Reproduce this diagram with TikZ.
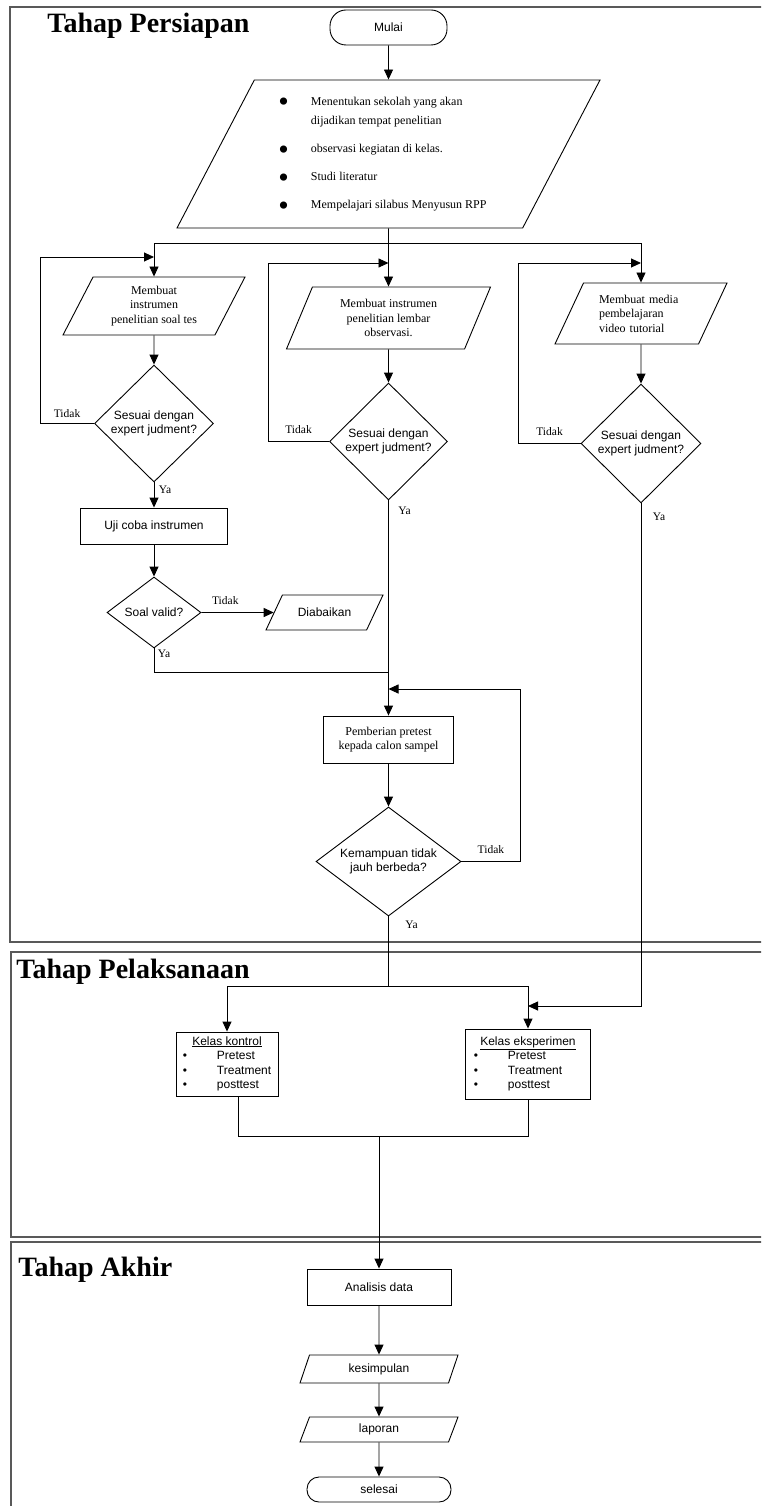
\documentclass[tikz,border=0pt]{standalone}
\usepackage{fontspec}
\setmainfont{Liberation Serif}
\setsansfont{Liberation Sans}
\usetikzlibrary{positioning,arrows.meta,shapes.geometric}
\newcommand{\bigdot}{\raisebox{-6.5pt}{\fontsize{30}{30}\selectfont\textbullet}}

\begin{document}
\begin{tikzpicture}[x=1pt, y=-1pt, line width=0.9pt,
    font=\fontsize{12}{14.5}\selectfont,
    sans/.style={font=\sffamily\fontsize{12}{14.5}\selectfont},
    term/.style={draw, sans, rounded corners=12pt, inner sep=0pt},
    proc/.style={draw, align=center, inner sep=3pt},
    io/.style={draw, trapezium, trapezium stretches body, align=center, inner sep=2pt},
    dec/.style={draw, diamond, sans, align=center, inner sep=0pt},
    lbl/.style={font=\fontsize{11.5}{12}\selectfont, inner sep=1.5pt},
    arr/.style={-{Triangle[length=10pt,width=9pt]}},
    frame/.style={draw=black!65, line width=1.6pt},
    stage/.style={font=\fontsize{28}{28}\selectfont\bfseries, anchor=base west, inner sep=0pt}
]
\useasboundingbox (0,0) rectangle (761,1506);
\clip (0,0) rectangle (761,1506);

% stage frames
\draw[frame] (10,7) rectangle (790,942);
\draw[frame] (11,952) rectangle (790,1237);
\draw[frame] (11,1242) rectangle (790,1530);
\node[stage] (tp) at (47,33) {Tahap Persiapan};
\node[stage] (tl) at (16,978) {Tahap Pelaksanaan};
\node[stage] (ta) at (18,1276) {Tahap Akhir};

% persiapan
\node[term, minimum width=117pt, minimum height=35pt, rounded corners=16pt] (start) at (388.5,27.5) {Mulai};
\node[io, trapezium left angle=58.5, trapezium right angle=121.5, minimum width=423pt,
      minimum height=148pt, font=\fontsize{12}{18}\selectfont] (plan) at (388.5,154) {%
  \begin{tabular}{@{}l@{\hspace{22pt}}l@{\hspace{12pt}}}
  \bigdot & Menentukan sekolah yang akan\\
          & dijadikan tempat penelitian\\[10pt]
  \bigdot & observasi kegiatan di kelas.\\[10pt]
  \bigdot & Studi literatur\\[10pt]
  \bigdot & Mempelajari silabus Menyusun RPP
  \end{tabular}};
\coordinate (split) at (388.5,243);

\node[io, trapezium left angle=55.6, trapezium right angle=124.4, minimum width=182pt, minimum height=58pt] (p1) at (154,306) {Membuat\\instrumen\\penelitian soal tes};
\node[dec, minimum width=119pt, minimum height=117pt] (d1) at (154,423.5) {Sesuai dengan\\expert judment?};
\node[proc, sans, minimum width=147pt, minimum height=36pt] (uji) at (154,526) {Uji coba instrumen};
\node[dec, aspect=1.32, minimum width=94pt, minimum height=71pt] (sv) at (154,612.5) {Soal valid?};
\node[io, sans, trapezium left angle=38, trapezium right angle=142, minimum width=117pt, minimum height=35pt] (dia) at (324.5,612.5) {Diabaikan};

\node[io, trapezium left angle=58, trapezium right angle=122, minimum width=204pt, minimum height=62pt] (p2) at (388.5,318) {Membuat instrumen\\penelitian lembar\\observasi.};
\node[dec, minimum width=118pt, minimum height=117pt] (d2) at (388.5,441.5) {Sesuai dengan\\expert judment?};

\node[io, trapezium left angle=55.5, trapezium right angle=124.5, minimum width=172pt, minimum height=61pt, align=left, text width=84pt] (p3) at (641,313.5) {Membuat media\\pembelajaran\\video tutorial};
\node[dec, minimum width=120pt, minimum height=119pt] (d3) at (641,443.5) {Sesuai dengan\\expert judment?};

\node[proc, minimum width=130pt, minimum height=47pt] (pem) at (388.5,739.5) {Pemberian pretest\\kepada calon sampel};
\node[dec, aspect=1.33, minimum width=145pt, minimum height=109pt] (km) at (388.5,861.5) {Kemampuan tidak\\jauh berbeda?};

\coordinate (in1) at (154,257);
\coordinate (in2) at (388.5,263);
\coordinate (in3) at (641,263);
\coordinate (m1) at (388.5,672);
\coordinate (m2) at (388.5,689);
\coordinate (m4) at (388.5,986);
\coordinate (m3) at (528,1006);

% pelaksanaan
\node[proc, sans, minimum width=102pt, minimum height=64pt] (kk) at (227,1064) {%
  \begin{tabular}{@{}l@{\hspace{30pt}}l@{}}
  \multicolumn{2}{@{}c@{}}{\underline{Kelas kontrol}}\\
  \textbullet & Pretest\\
  \textbullet & Treatment\\
  \textbullet & posttest
  \end{tabular}};
\node[proc, sans, minimum width=125pt, minimum height=70pt] (ke) at (528,1064) {%
  \begin{tabular}{@{}l@{\hspace{30pt}}l@{\hspace{20pt}}}
  \multicolumn{2}{@{}c@{}}{\underline{Kelas eksperimen}}\\
  \textbullet & Pretest\\
  \textbullet & Treatment\\
  \textbullet & posttest
  \end{tabular}};
\coordinate (m5) at (379,1136);

% akhir
\node[proc, sans, minimum width=144pt, minimum height=36pt] (ana) at (379,1287) {Analisis data};
\node[io, sans, trapezium left angle=58, trapezium right angle=122, minimum width=158pt, minimum height=28pt] (kes) at (379,1369) {kesimpulan};
\node[io, sans, trapezium left angle=58, trapezium right angle=122, minimum width=158pt, minimum height=25pt] (lap) at (379,1429.5) {laporan};
\node[term, minimum width=144pt, minimum height=25pt] (sel) at (379,1489.5) {selesai};

% connectors
\draw[arr] (start.south) -- (plan.north);
\draw (plan.south) -- (split);
\draw[arr] (split) -| (p1.north);
\draw[arr] (split) -- (p2.north);
\draw[arr] (split) -| (p3.north);

\draw[arr] (p1.south) -- (d1.north);
\draw[arr] (d1.west) -- node[lbl, above, yshift=4pt] (t1) {Tidak} ++(-54,0) |- (in1);
\draw[arr] (d1.south) -- node[lbl, right, pos=.3, xshift=3pt] (y1) {Ya} (uji.north);
\draw[arr] (uji.south) -- (sv.north);
\draw[arr] (sv.east) -- node[lbl, above, pos=.33, yshift=6pt] (t4) {Tidak} (dia.west);
\draw (sv.south) |- node[lbl, anchor=north west, pos=0, xshift=2pt] (y4) {Ya} (m1);

\draw[arr] (p2.south) -- (d2.north);
\draw[arr] (d2.west) -- node[lbl, above, yshift=6pt] (t2) {Tidak} ++(-61,0) |- (in2);
\draw (d2.south) -- node[lbl, anchor=north west, pos=0, xshift=8pt, yshift=-5pt] (y2) {Ya} (m1);
\draw[arr] (m1) -- (pem.north);

\draw[arr] (p3.south) -- (d3.north);
\draw[arr] (d3.west) -- node[lbl, above, yshift=6pt] (t3) {Tidak} ++(-62,0) |- (in3);
\draw[arr] (d3.south) |- node[lbl, anchor=north west, pos=0, xshift=10pt, yshift=-8pt] (y3) {Ya} (m3);

\draw[arr] (pem.south) -- (km.north);
\draw[arr] (km.east) -- node[lbl, above, yshift=6pt] (t5) {Tidak} ++(59,0) |- (m2);
\draw (km.south) -- node[lbl, anchor=north west, pos=0, xshift=15pt, yshift=-3pt] (y5) {Ya} (m4);
\draw[arr] (m4) -| (kk.north);
\draw[arr] (m4) -| (ke.north);

\draw ([xshift=11pt]kk.south) |- (m5) -| (ke.south);
\draw[arr] (m5) -- (ana.north);
\draw[arr] (ana.south) -- (kes.north);
\draw[arr] (kes.south) -- (lap.north);
\draw[arr] (lap.south) -- (sel.north);
\end{tikzpicture}
\end{document}
